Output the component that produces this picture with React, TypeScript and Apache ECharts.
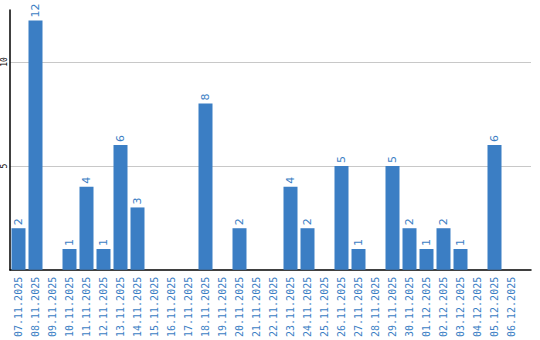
import React, { useEffect, useRef } from "react";
import * as echarts from "echarts";

const categories = [
  "07.11.2025", "08.11.2025", "09.11.2025", "10.11.2025", "11.11.2025", "12.11.2025",
  "13.11.2025", "14.11.2025", "15.11.2025", "16.11.2025", "17.11.2025", "18.11.2025",
  "19.11.2025", "20.11.2025", "21.11.2025", "22.11.2025", "23.11.2025", "24.11.2025",
  "25.11.2025", "26.11.2025", "27.11.2025", "28.11.2025", "29.11.2025", "30.11.2025",
  "01.12.2025", "02.12.2025", "03.12.2025", "04.12.2025", "05.12.2025", "06.12.2025",
];
const values = [2, 12, 0, 1, 4, 1, 6, 3, 0, 0, 0, 8, 0, 2, 0, 0, 4, 2, 0, 5, 1, 0, 5, 2, 1, 2, 1, 0, 6, 0];
const yTicks = [0, 5, 10];

const BLUE = "#3b7ec4";

export default function App() {
  const ref = useRef<HTMLDivElement>(null);
  useEffect(() => {
    if (!ref.current) return;
    const chart = echarts.init(ref.current, null, { renderer: "svg" });
    const yMax = 12.5;
    chart.setOption({
      animation: false,
      grid: [
        { left: 10, top: 10, width: 510, height: 260, containLabel: false },
        { left: 10, top: 10, width: 521, height: 260, containLabel: false },
      ],
      xAxis: [
        {
          type: "category",
          gridIndex: 0,
          data: categories,
          axisLine: { show: false },
          axisTick: { show: false },
          axisLabel: {
            rotate: 90,
            interval: 0,
            margin: 7,
            color: BLUE,
            fontFamily: "DejaVu Sans Mono",
            fontSize: 10,
          },
          splitLine: { show: false },
        },
        {
          type: "category",
          gridIndex: 1,
          data: categories,
          axisLine: { show: true, lineStyle: { color: "#000", width: 1.5 } },
          axisTick: { show: false },
          axisLabel: { show: false },
          splitLine: { show: false },
        },
      ],
      yAxis: [
        {
          type: "value",
          gridIndex: 0,
          min: 0,
          max: yMax,
          interval: 5,
          axisLine: { show: false },
          axisTick: { show: false },
          axisLabel: { show: false },
          splitLine: { show: false },
        },
        {
          type: "value",
          gridIndex: 1,
          min: 0,
          max: yMax,
          interval: 5,
          axisLine: { show: true, lineStyle: { color: "#000", width: 1.5 } },
          axisTick: { show: false },
          axisLabel: {
            rotate: 90,
            margin: 2,
            color: "#000",
            fontFamily: "DejaVu Sans Mono",
            fontSize: 8,
            showMaxLabel: false,
            formatter: (v: number) => (yTicks.includes(v) && v !== 0 ? String(v) : ""),
          },
          splitLine: { show: true, showMaxLine: false, showMinLine: false, lineStyle: { color: "#c8c8c8", width: 1 } },
        },
      ],
      series: [
        {
          type: "bar",
          xAxisIndex: 0,
          yAxisIndex: 0,
          data: values,
          barWidth: 14,
          itemStyle: { color: BLUE },
          label: {
            show: true,
            position: "top",
            rotate: 90,
            align: "left",
            verticalAlign: "middle",
            distance: 3,
            color: BLUE,
            fontFamily: "DejaVu Sans",
            fontSize: 11,
            formatter: (p: any) => (p.value ? String(p.value) : ""),
          },
        },
      ],
    });
    return () => chart.dispose();
  }, []);
  return <div ref={ref} style={{ width: 540, height: 340, position: "absolute", left: 0, top: 0 }} />;
}
